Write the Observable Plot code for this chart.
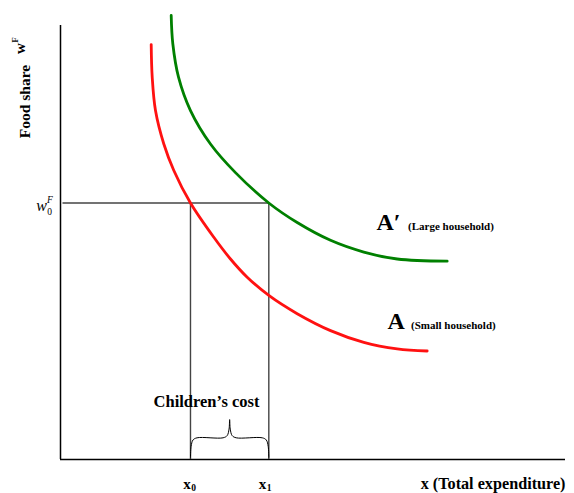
<!DOCTYPE html>
<html>
<head>
<meta charset="utf-8">
<script src="https://cdn.jsdelivr.net/npm/d3@7"></script>
<script src="https://cdn.jsdelivr.net/npm/@observablehq/plot@0.6"></script>
<style>
  html, body { margin: 0; padding: 0; background: #fff; }
  #chart svg { display: block; }
</style>
</head>
<body>
<div id="chart"></div>
<script>
// Curve A (small household): total expenditure vs food share
const smallX = [17.96, 18.16, 18.81, 20.46, 22.44, 25.74, 30.36, 33.66, 36.97, 41.25, 46.87, 53.47, 60.06, 66.67, 72.61];
const smallY = [0.956, 0.881, 0.804, 0.727, 0.666, 0.591, 0.512, 0.462, 0.420, 0.378, 0.336, 0.297, 0.270, 0.255, 0.250];
// Curve A' (large household)
const largeX = [21.92, 22.24, 23.37, 25.74, 29.70, 34.65, 41.25, 46.87, 53.47, 60.06, 66.67, 76.57];
const largeY = [1.023, 0.958, 0.881, 0.804, 0.727, 0.661, 0.591, 0.546, 0.505, 0.478, 0.462, 0.457];
// Reference food share and the two expenditure levels
const w0 = 0.591;
const x0 = 25.74;
const x1 = 41.25;
// Labels
const yLabel = "Food share";
const xLabel = "x (Total expenditure)";
const braceLabel = "Children\u2019s cost";
const curveLabels = ["A", "A\u2032"];
const curveNotes = ["(Small household)", "(Large household)"];

const small = smallX.map((x, i) => ({x, y: smallY[i]}));
const large = largeX.map((x, i) => ({x, y: largeY[i]}));

// brace shape built from x0, x1
const mid = (x0 + x1) / 2;
const bLow = 0.005, bMid = 0.05, bTop = 0.092;
const brace = [
  {x: x0, y: bLow}, {x: x0 + 0.12, y: 0.03}, {x: x0 + 0.5, y: 0.045}, {x: x0 + 1.3, y: bMid},
  {x: mid - 1.3, y: bMid}, {x: mid - 0.5, y: 0.055}, {x: mid - 0.12, y: 0.07}, {x: mid, y: bTop},
  {x: mid + 0.12, y: 0.07}, {x: mid + 0.5, y: 0.055}, {x: mid + 1.3, y: bMid},
  {x: x1 - 1.3, y: bMid}, {x: x1 - 0.5, y: 0.045}, {x: x1 - 0.12, y: 0.03}, {x: x1, y: bLow}
];

// pixel helpers for annotation placement
const W = 574, H = 493, ML = 60, MR = 9, MT = 10, MB = 34;
const xMax = 100, yMax = (H - MB - MT) / 434;
const X = px => (px - ML) / ((W - ML - MR) / xMax);
const Y = py => (H - MB - py) / 434;

const serif = "Liberation Serif, Times New Roman, serif";
const gray = "#444";

const chart = Plot.plot({
  width: W, height: H,
  marginLeft: ML, marginRight: MR, marginTop: MT, marginBottom: MB,
  x: {domain: [0, xMax], axis: null},
  y: {domain: [0, yMax], axis: null},
  style: {fontFamily: serif, background: "#fff"},
  marks: [
    // guide lines
    Plot.ruleY([w0], {x1: X(62.5), x2: x1, stroke: gray, strokeWidth: 1.4}),
    Plot.ruleX([x0, x1], {y1: 0, y2: w0, stroke: gray, strokeWidth: 1.4}),
    // axes
    Plot.ruleX([0], {y1: 0, y2: 1, stroke: "#000", strokeWidth: 1.5}),
    Plot.ruleY([0], {x1: 0, x2: xMax, stroke: "#000", strokeWidth: 1.5}),
    // curves
    Plot.line(small, {x: "x", y: "y", stroke: "#ff1111", strokeWidth: 2.8, curve: "catmull-rom"}),
    Plot.line(large, {x: "x", y: "y", stroke: "#008000", strokeWidth: 2.8, curve: "catmull-rom"}),
    // brace
    Plot.line(brace, {x: "x", y: "y", stroke: "#000", strokeWidth: 1, curve: "catmull-rom"}),
    // texts
    Plot.text([braceLabel], {x: X(206), y: Y(401), text: d => d, fontSize: 16.5, fontWeight: "bold", fill: "#000"}),
    Plot.text([xLabel], {x: xMax, y: Y(483.5), text: d => d, textAnchor: "end", fontSize: 16.2, fontWeight: "bold", fill: "#000"}),
    Plot.text([yLabel], {x: X(25), y: Y(101), text: d => d, rotate: -90, fontSize: 15.5, fontWeight: "bold", fill: "#000"}),
    Plot.text(["w"], {x: X(20), y: Y(48), text: d => d, rotate: -90, fontSize: 15, fontWeight: "bold", fill: "#000"}),
    Plot.text(["F"], {x: X(15), y: Y(39.5), text: d => d, rotate: -90, fontSize: 9, fontWeight: "bold", fill: "#000"}),
    // w0^F label
    Plot.text(["w"], {x: X(41), y: Y(205), text: d => d, fontSize: 16, fontStyle: "italic", fill: "#000"}),
    Plot.text(["0"], {x: X(49), y: Y(211), text: d => d, fontSize: 9.5, fill: "#000"}),
    Plot.text(["F"], {x: X(49.5), y: Y(199), text: d => d, fontSize: 9.5, fontStyle: "italic", fill: "#000"}),
    // x0, x1 tick labels
    Plot.text(["x"], {x: X(186.5), y: Y(483.5), text: d => d, fontSize: 15, fontWeight: "bold", fill: "#000"}),
    Plot.text(["0"], {x: X(193), y: Y(487), text: d => d, fontSize: 9.5, fontWeight: "bold", fill: "#000"}),
    Plot.text(["x"], {x: X(262), y: Y(483.5), text: d => d, fontSize: 15, fontWeight: "bold", fill: "#000"}),
    Plot.text(["1"], {x: X(268.5), y: Y(487), text: d => d, fontSize: 9.5, fontWeight: "bold", fill: "#000"}),
    // curve labels
    Plot.text([curveLabels[1]], {x: X(376), y: Y(222), text: d => d, textAnchor: "start", fontSize: 24, fontWeight: "bold", fill: "#000"}),
    Plot.text([curveNotes[1]], {x: X(407.5), y: Y(226), text: d => d, textAnchor: "start", fontSize: 11, fontWeight: "bold", fill: "#000"}),
    Plot.text([curveLabels[0]], {x: X(387), y: Y(321), text: d => d, textAnchor: "start", fontSize: 24, fontWeight: "bold", fill: "#000"}),
    Plot.text([curveNotes[0]], {x: X(410.5), y: Y(325), text: d => d, textAnchor: "start", fontSize: 11, fontWeight: "bold", fill: "#000"})
  ]
});
document.getElementById("chart").append(chart);
</script>
</body>
</html>
